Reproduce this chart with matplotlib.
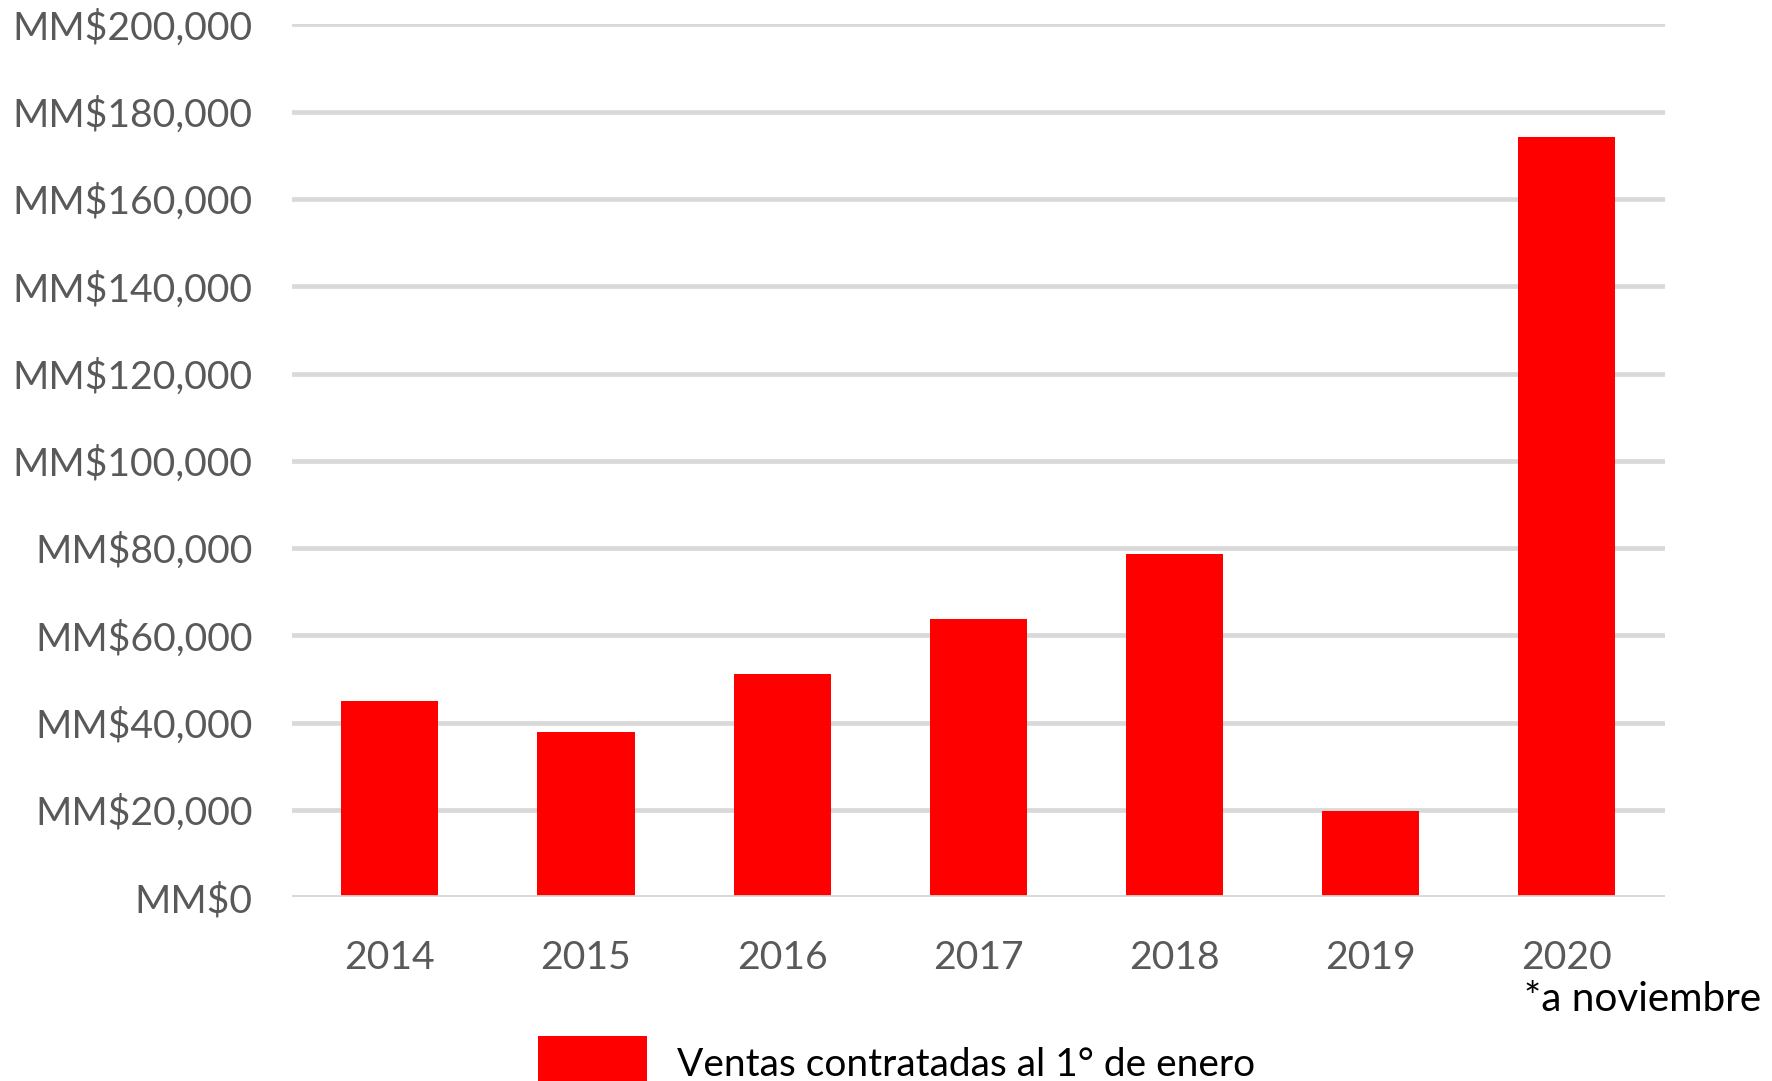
import matplotlib
matplotlib.use("Agg")
import matplotlib.pyplot as plt
from matplotlib.ticker import FuncFormatter, MultipleLocator
from matplotlib.patches import Patch

years = ["2014", "2015", "2016", "2017", "2018", "2019", "2020"]
ventas = [45000, 37900, 51100, 63700, 78600, 19700, 174200]
series_label = "Ventas contratadas al 1° de enero"
note_text = "*a noviembre"

plt.rcParams['font.family'] = ['Lato', 'DejaVu Sans']

fig = plt.figure(figsize=(17.72, 10.81), dpi=100)
ax = fig.add_axes([291.7 / 1772, 183.7 / 1081, (1665 - 291.7) / 1772, (897.3 - 24.3) / 1081])

x = list(range(len(years)))
ax.bar(x, ventas, width=0.495, color="#FF0000", zorder=2)

ax.set_xlim(-0.5, len(years) - 0.5)
ax.set_ylim(0, 200000)
ax.yaxis.set_major_locator(MultipleLocator(20000))
ax.yaxis.set_major_formatter(FuncFormatter(lambda v, p: "MM${:,.0f}".format(v)))
ax.set_xticks(x)
ax.set_xticklabels(years)

ax.grid(axis='y', color="#D9D9D9", linewidth=3.4, zorder=1)
ax.set_axisbelow(True)
for s in ax.spines.values():
    s.set_visible(False)
ax.axhline(0, color="#D9D9D9", linewidth=3.4, zorder=3)

ax.tick_params(axis='both', length=0, labelsize=28.2, labelcolor="#595959")
ax.tick_params(axis='y', pad=28)
ax.tick_params(axis='x', pad=31)

fig.text(1524 / 1772, 1 - 1011 / 1081, note_text, fontsize=29.2, color="black",
         ha='left', va='baseline')

handle = Patch(facecolor="#FF0000", edgecolor="none")
fig.legend([handle], [series_label], loc='center left',
           bbox_to_anchor=(538 / 1772, 1 - 1063 / 1081), frameon=False,
           fontsize=28.0, handlelength=2.8, handleheight=1.75, handletextpad=0.78,
           borderpad=0, borderaxespad=0)

fig.savefig("out.png", dpi=100)
